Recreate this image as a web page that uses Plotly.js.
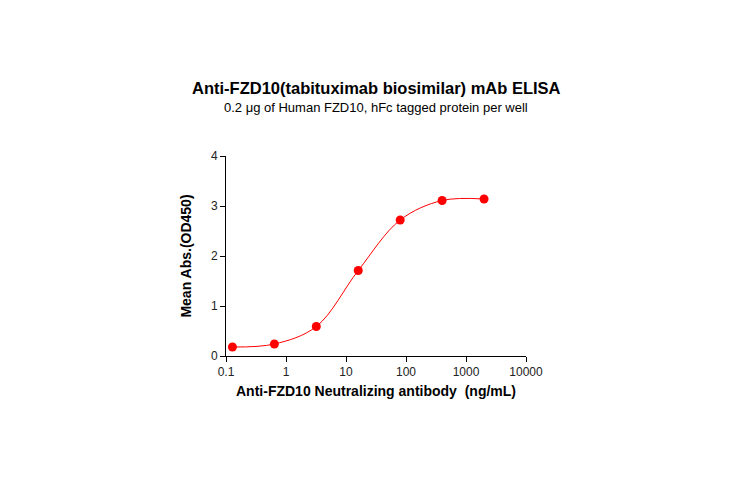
<!DOCTYPE html>
<html>
<head>
<meta charset="utf-8">
<script src="https://cdn.plot.ly/plotly-3.0.1.min.js"></script>
<style>
  html, body { margin: 0; padding: 0; background: #fff; }
  #myPlot { width: 730px; height: 478px; }
</style>
</head>
<body>
<div id="myPlot"></div>
<script>
// antibody concentration (ng/mL), 5-fold dilutions
var concValues = [0.128, 0.64, 3.2, 16, 80, 400, 2000];
// mean OD450
var odValues = [0.18, 0.24, 0.59, 1.71, 2.72, 3.11, 3.14];

var xTickValues = [0.1, 1, 10, 100, 1000, 10000];
var xTickLabels = ["0.1", "1", "10", "100", "1000", "10000"];
var yTickValues = [0, 1, 2, 3, 4];

var red = "#ff0000";
var fontFamily = "Liberation Sans, Arial, sans-serif";

var data = [
  {
    x: concValues, y: odValues, mode: "lines",
    line: {color: red, width: 1, shape: "spline", smoothing: 1},
    hoverinfo: "skip", showlegend: false
  },
  {
    x: concValues, y: odValues, mode: "markers",
    marker: {color: red, size: 9},
    showlegend: false
  }
];

var layout = {
  width: 730, height: 478,
  margin: {l: 226, r: 204, t: 156, b: 122},
  paper_bgcolor: "#fff", plot_bgcolor: "#fff",
  font: {family: fontFamily, color: "#000", size: 12},
  xaxis: {
    type: "log", range: [-1, 4],
    tickvals: xTickValues, ticktext: xTickLabels,
    ticks: "outside", ticklen: 5, tickwidth: 1, tickcolor: "#000",
    showline: true, linecolor: "#000", linewidth: 1,
    showgrid: false, zeroline: false,
    tickfont: {size: 12, color: "#222"},
    title: {text: "<b>Anti-FZD10 Neutralizing antibody  (ng/mL)</b>", font: {size: 14}, standoff: 7}
  },
  yaxis: {
    range: [0, 4], tickvals: yTickValues,
    ticks: "outside", ticklen: 5, tickwidth: 1, tickcolor: "#000",
    showline: true, linecolor: "#000", linewidth: 1,
    showgrid: false, zeroline: false,
    tickfont: {size: 12, color: "#222"},
    title: {text: "<b>Mean Abs.(OD450)</b>", font: {size: 14}, standoff: 16}
  },
  annotations: [
    {
      text: "<b>Anti-FZD10(tabituximab biosimilar) mAb ELISA</b>",
      xref: "paper", yref: "paper", x: 0.5, y: 1.0, yshift: 68,
      xanchor: "center", yanchor: "middle", showarrow: false,
      font: {size: 16.5, color: "#000"}
    },
    {
      text: "0.2 μg of Human FZD10, hFc tagged protein per well",
      xref: "paper", yref: "paper", x: 0.5, y: 1.0, yshift: 49,
      xanchor: "center", yanchor: "middle", showarrow: false,
      font: {size: 13, color: "#000"}
    }
  ]
};

Plotly.newPlot("myPlot", data, layout, {displayModeBar: false, staticPlot: true});
</script>
</body>
</html>
